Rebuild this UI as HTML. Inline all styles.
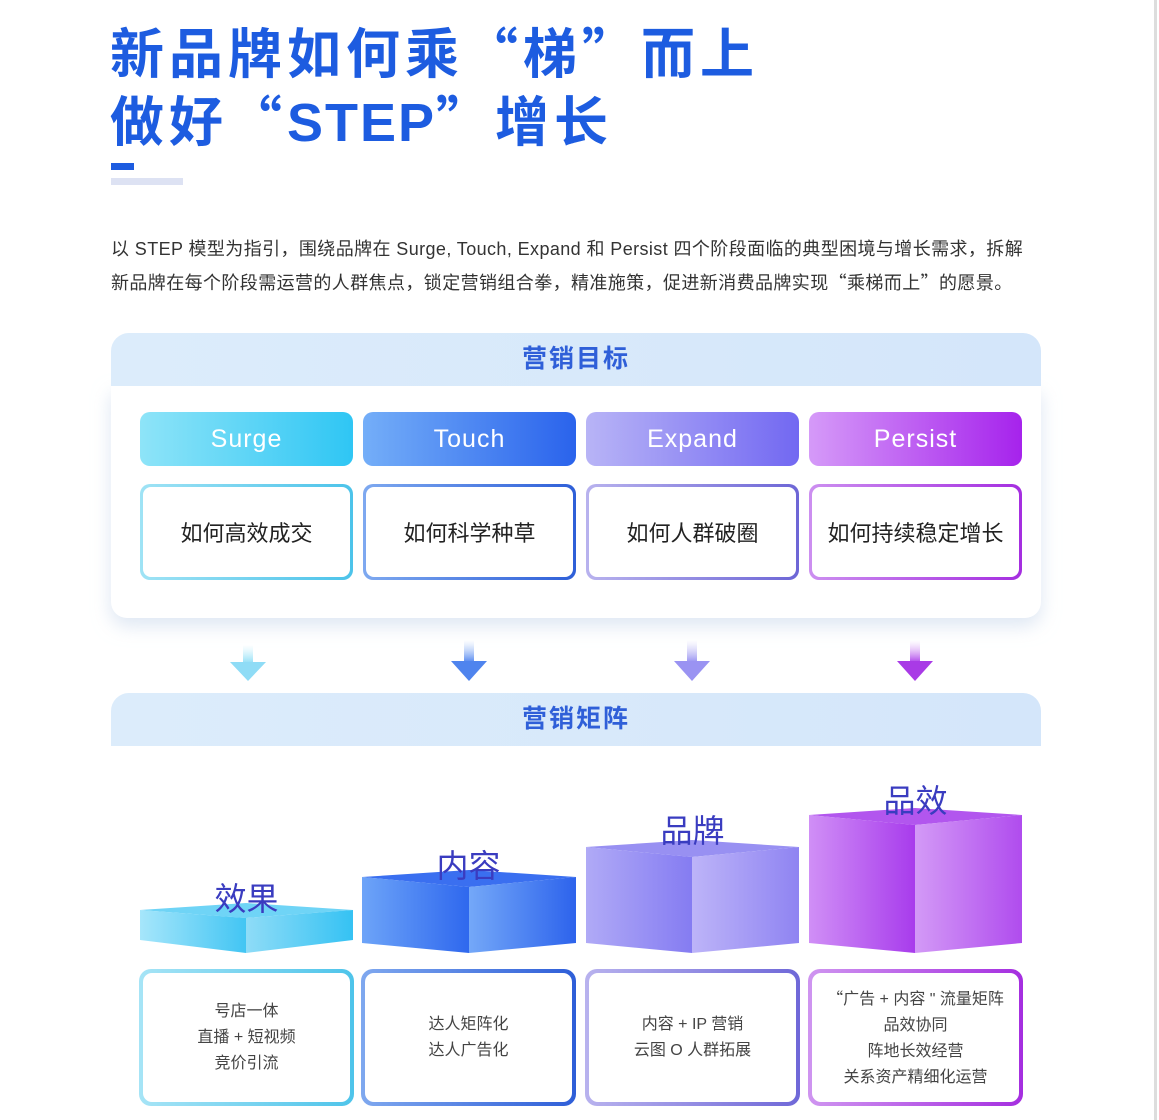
<!DOCTYPE html>
<html><head><meta charset="utf-8"><style>
*{margin:0;padding:0;box-sizing:border-box}
body{width:1159px;height:1120px;background:#fff;position:relative;overflow:hidden;font-family:"Liberation Sans","Noto Sans CJK SC",sans-serif}
.a{position:absolute}
.t{color:#1d5ce0;font-weight:bold;font-size:54px;left:110px;letter-spacing:5px;line-height:60px;font-family:"Noto Sans CJK SC",sans-serif}
.t span{font-family:"Liberation Sans",sans-serif;letter-spacing:2px}
.p{left:111px;font-size:18px;color:#333;line-height:33px;width:960px;letter-spacing:0.4px}
.cq{font-family:"Noto Sans CJK SC",sans-serif}
.band{left:111px;width:930px;height:53px;border-radius:18px 18px 0 0;background:linear-gradient(90deg,#dcecfb,#d4e6fa);color:#2f5fd8;font-weight:bold;font-size:25px;text-align:center;line-height:53px;letter-spacing:2px}
.panel{left:111px;width:930px;background:#fff;box-shadow:0 8px 18px rgba(200,215,235,.6);border-radius:0 0 16px 16px}
.pill{height:54px;width:213px;border-radius:10px;color:#fff;font-size:25px;text-align:center;line-height:54px;letter-spacing:1px}
.q{height:96px;width:213px;border-radius:10px;padding:3px}
.q div{background:#fff;width:100%;height:100%;border-radius:8px;display:flex;align-items:center;justify-content:center;font-size:22px;color:#222}
.b{height:137px;width:215px;border-radius:12px;padding:4px}
.b div{background:#fff;width:100%;height:100%;border-radius:9px;display:flex;align-items:center;justify-content:center;text-align:center;font-size:16px;color:#444;line-height:26px}
.lbl{font-size:32px;color:#3a3cc0;width:213px;text-align:center}
</style></head><body>
<div class="a" style="right:2px;top:0;width:3px;height:1120px;background:#ddd"></div>
<div class="a t" style="top:20px">新品牌如何乘“梯”而上</div>
<div class="a t" style="top:88px">做好“<span>STEP</span>”增长</div>
<div class="a" style="left:111px;top:163px;width:23px;height:7px;background:#1d5ce0"></div>
<div class="a" style="left:111px;top:178px;width:72px;height:7px;background:#dde2f3"></div>
<div class="a p" style="top:233px">以 STEP 模型为指引，围绕品牌在 Surge, Touch, Expand 和 Persist 四个阶段面临的典型困境与增长需求，拆解<br>新品牌在每个阶段需运营的人群焦点，锁定营销组合拳，精准施策，促进新消费品牌实现<span class="cq">“</span>乘梯而上<span class="cq">”</span>的愿景。</div>

<div class="a panel" style="top:386px;height:232px"></div>
<div class="a band" style="top:333px">营销目标</div>
<div class="a pill" style="left:140px;top:412px;background:linear-gradient(90deg,#8ee4f8,#2fc6f4)">Surge</div>
<div class="a pill" style="left:363px;top:412px;background:linear-gradient(90deg,#74aef8,#2a63ec)">Touch</div>
<div class="a pill" style="left:586px;top:412px;background:linear-gradient(90deg,#b8b4f6,#7268f2)">Expand</div>
<div class="a pill" style="left:809px;top:412px;background:linear-gradient(90deg,#d59af8,#a623ec)">Persist</div>
<div class="a q" style="left:140px;top:484px;background:linear-gradient(90deg,#9fe3f5,#4cc3ea)"><div>如何高效成交</div></div>
<div class="a q" style="left:363px;top:484px;background:linear-gradient(90deg,#7ea9f0,#2e5fd8)"><div>如何科学种草</div></div>
<div class="a q" style="left:586px;top:484px;background:linear-gradient(90deg,#b8b2ee,#6d66d6)"><div>如何人群破圈</div></div>
<div class="a q" style="left:809px;top:484px;background:linear-gradient(90deg,#cc8ff0,#a52ee0)"><div>如何持续稳定增长</div></div>

<svg class="a" style="left:0;top:0" width="1159" height="1120">
<defs>
<linearGradient id="s1" x1="0" y1="0" x2="0" y2="1"><stop offset="0" stop-color="#b7ecfa" stop-opacity="0"/><stop offset="1" stop-color="#7fd9f5"/></linearGradient>
<linearGradient id="s2" x1="0" y1="0" x2="0" y2="1"><stop offset="0" stop-color="#9fc0f7" stop-opacity="0"/><stop offset="1" stop-color="#3f78ee"/></linearGradient>
<linearGradient id="s3" x1="0" y1="0" x2="0" y2="1"><stop offset="0" stop-color="#c6c2f6" stop-opacity="0"/><stop offset="1" stop-color="#8b84f0"/></linearGradient>
<linearGradient id="s4" x1="0" y1="0" x2="0" y2="1"><stop offset="0" stop-color="#dba8f6" stop-opacity="0"/><stop offset="1" stop-color="#a52ee8"/></linearGradient>
<linearGradient id="l1" x1="0" x2="1"><stop offset="0" stop-color="#a6e6fb"/><stop offset="1" stop-color="#42c5f3"/></linearGradient>
<linearGradient id="r1" x1="0" x2="1"><stop offset="0" stop-color="#8fdcf7"/><stop offset="1" stop-color="#35c2f3"/></linearGradient>
<linearGradient id="l2" x1="0" x2="1"><stop offset="0" stop-color="#6da4f8"/><stop offset="1" stop-color="#2f68ee"/></linearGradient>
<linearGradient id="r2" x1="0" x2="1"><stop offset="0" stop-color="#74a8f8"/><stop offset="1" stop-color="#2d63ec"/></linearGradient>
<linearGradient id="l3" x1="0" x2="1"><stop offset="0" stop-color="#b0aaf6"/><stop offset="1" stop-color="#857cf2"/></linearGradient>
<linearGradient id="r3" x1="0" x2="1"><stop offset="0" stop-color="#bdb4f8"/><stop offset="1" stop-color="#8f84f2"/></linearGradient>
<linearGradient id="l4" x1="0" x2="1"><stop offset="0" stop-color="#d08ff6"/><stop offset="1" stop-color="#a83cec"/></linearGradient>
<linearGradient id="r4" x1="0" x2="1"><stop offset="0" stop-color="#d39af6"/><stop offset="1" stop-color="#b04cee"/></linearGradient>
</defs>
<g>
<rect x="243" y="645" width="10" height="20" fill="url(#s1)"/><polygon points="230,662 266,662 248,681" fill="#8fdcf6"/>
<rect x="464" y="640" width="10" height="24" fill="url(#s2)"/><polygon points="451,661 487,661 469,681" fill="#4f84ee"/>
<rect x="687" y="640" width="10" height="24" fill="url(#s3)"/><polygon points="674,661 710,661 692,681" fill="#9a93f2"/>
<rect x="910" y="640" width="10" height="24" fill="url(#s4)"/><polygon points="897,661 933,661 915,681" fill="#a93ae6"/>
</g>
<g>
<polygon points="140,910 246,903 353,910 246,918" fill="#6fd4f6"/>
<polygon points="140,910 246,918 246,953 140,940" fill="url(#l1)"/>
<polygon points="246,918 353,910 353,940 246,953" fill="url(#r1)"/>
<polygon points="362,877 469,870 576,877 469,887" fill="#3a6ff0"/>
<polygon points="362,877 469,887 469,953 362,943" fill="url(#l2)"/>
<polygon points="469,887 576,877 576,943 469,953" fill="url(#r2)"/>
<polygon points="586,847 692,840 799,847 692,857" fill="#9890f2"/>
<polygon points="586,847 692,857 692,953 586,943" fill="url(#l3)"/>
<polygon points="692,857 799,847 799,943 692,953" fill="url(#r3)"/>
<polygon points="809,815 915,808 1022,815 915,825" fill="#b256ee"/>
<polygon points="809,815 915,825 915,953 809,943" fill="url(#l4)"/>
<polygon points="915,825 1022,815 1022,943 915,953" fill="url(#r4)"/>
</g>
</svg>

<div class="a band" style="top:693px">营销矩阵</div>
<div class="a lbl" style="left:140px;top:874px">效果</div>
<div class="a lbl" style="left:362px;top:841px">内容</div>
<div class="a lbl" style="left:586px;top:806px">品牌</div>
<div class="a lbl" style="left:809px;top:776px">品效</div>

<div class="a b" style="left:139px;top:969px;background:linear-gradient(90deg,#a6e4f6,#4ec4ea)"><div><p>号店一体<br>直播 + 短视频<br>竞价引流</p></div></div>
<div class="a b" style="left:361px;top:969px;background:linear-gradient(90deg,#7fa8ef,#2e5ed8)"><div><p>达人矩阵化<br>达人广告化</p></div></div>
<div class="a b" style="left:585px;top:969px;background:linear-gradient(90deg,#b8b2ee,#6f68d8)"><div><p>内容 + IP 营销<br>云图 O 人群拓展</p></div></div>
<div class="a b" style="left:808px;top:969px;background:linear-gradient(90deg,#cf95f0,#a52ee0)"><div><p><span class="cq">“</span>广告 + 内容 " 流量矩阵<br>品效协同<br>阵地长效经营<br>关系资产精细化运营</p></div></div>
</body></html>
